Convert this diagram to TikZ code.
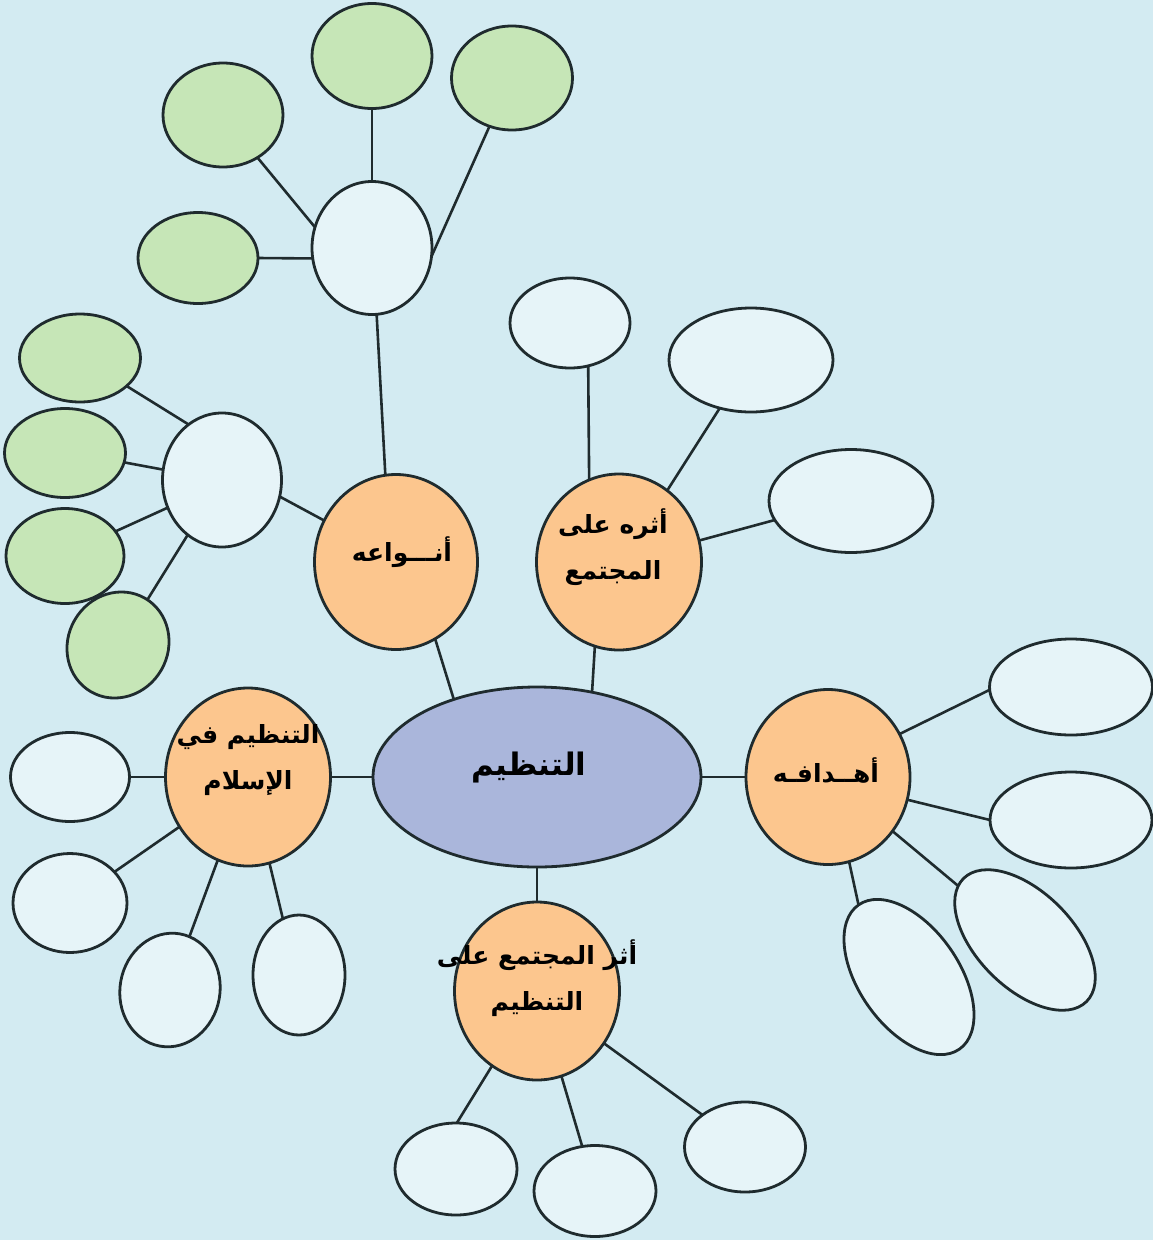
\documentclass[tikz,border=0pt]{standalone}
\usepackage{fontspec}
\newfontfamily\arfont[Script=Arabic]{DejaVu Sans}
\TeXXeTstate=1
\usetikzlibrary{shapes.geometric}
\definecolor{bgc}{HTML}{D3EBF2}
\definecolor{linec}{HTML}{1F2B2E}
\definecolor{corec}{HTML}{AAB6DB}
\definecolor{topicc}{HTML}{FCC68E}
\definecolor{leafgc}{HTML}{C6E6B7}
\definecolor{leafpc}{HTML}{E6F4F8}
\tikzset{
  shapebase/.style={ellipse, draw=linec, line width=2.8pt, inner sep=0pt, outer sep=0pt},
  leafg/.style={shapebase, fill=leafgc},
  leafp/.style={shapebase, fill=leafpc},
  topic/.style={shapebase, fill=topicc},
  core/.style={shapebase, fill=corec},
  lbl/.style={inner sep=0pt, align=center, text=black, font=\arfont\bfseries\fontsize{25}{46}\selectfont},
  corelbl/.style={inner sep=0pt, align=center, text=black, font=\arfont\bfseries\fontsize{31}{36}\selectfont},
  link/.style={draw=linec, line width=2.6pt}
}
\begin{document}
\begin{tikzpicture}[x=1pt,y=-1pt]
\useasboundingbox (0,0) rectangle (1153,1240);
\fill[bgc] (0,0) rectangle (1153,1240);

% central and topic nodes
\node[core, minimum width=328pt, minimum height=180pt] (c) at (537,777) {};
\node[topic, minimum width=163pt, minimum height=175pt] (o1) at (396,562) {};
\node[topic, minimum width=165pt, minimum height=176pt] (o2) at (619,562) {};
\node[topic, minimum width=164pt, minimum height=175pt] (o3) at (828,777) {};
\node[topic, minimum width=165pt, minimum height=178pt] (o4) at (248,777) {};
\node[topic, minimum width=165pt, minimum height=178pt] (o5) at (537,991) {};

% hubs
\node[leafp, minimum width=120pt, minimum height=133pt] (h1) at (372,248) {};
\node[leafp, minimum width=119pt, minimum height=134pt] (h2) at (222,480) {};

% green leaves of h1
\node[leafg, minimum width=120pt, minimum height=104pt] (g1a) at (223,115) {};
\node[leafg, minimum width=120pt, minimum height=105pt] (g1b) at (372,56) {};
\node[leafg, minimum width=121pt, minimum height=104pt] (g1c) at (512,78) {};
\node[leafg, minimum width=120pt, minimum height=91pt] (g1d) at (198,258) {};

% green leaves of h2
\node[leafg, minimum width=121pt, minimum height=88pt] (g2a) at (80,358) {};
\node[leafg, minimum width=121pt, minimum height=89pt] (g2b) at (65,453) {};
\node[leafg, minimum width=118pt, minimum height=95pt] (g2c) at (65,556) {};
\node[leafg, minimum width=108pt, minimum height=100pt, rotate=60] (g2d) at (118,645) {};

% leaves of o2
\node[leafp, minimum width=120pt, minimum height=90pt] (e2a) at (570,323) {};
\node[leafp, minimum width=164pt, minimum height=104pt] (e2b) at (751,360) {};
\node[leafp, minimum width=164pt, minimum height=103pt] (e2c) at (851,501) {};

% leaves of o3
\node[leafp, minimum width=163pt, minimum height=96pt] (e3a) at (1071,687) {};
\node[leafp, minimum width=162pt, minimum height=96pt] (e3b) at (1071,820) {};
\node[leafp, minimum width=174pt, minimum height=96pt, rotate=-45] (e3c) at (1025,940) {};
\node[leafp, minimum width=176pt, minimum height=100pt, rotate=-55] (e3d) at (909,977) {};

% leaves of o4
\node[leafp, minimum width=119pt, minimum height=89pt] (e4a) at (70,777) {};
\node[leafp, minimum width=114pt, minimum height=99pt] (e4b) at (70,903) {};
\node[leafp, minimum width=114pt, minimum height=100pt, rotate=80] (e4c) at (170,990) {};
\node[leafp, minimum width=92pt, minimum height=120pt] (e4d) at (299,975) {};

% leaves of o5
\node[leafp, minimum width=122pt, minimum height=92pt] (e5a) at (456,1169) {};
\node[leafp, minimum width=122pt, minimum height=91pt] (e5b) at (595,1191) {};
\node[leafp, minimum width=121pt, minimum height=90pt] (e5c) at (745,1147) {};

% connectors
\draw[link] (h1.160) -- (g1a.-51);
\draw[link] (h1.90) -- (g1b.-90);
\draw[link] (h1.-8) -- (g1c.-115);
\draw[link] (h1.-170) -- (g1d.0);
\draw[link] (h1.-86) -- (o1.97);
\draw[link] (o1.-63) -- (c.137);
\draw[link] (h2.-16) -- (o1.150);
\draw[link] (h2.121) -- (g2a.-31);
\draw[link] (h2.170) -- (g2b.-9);
\draw[link] (h2.-153) -- (g2c.26);
\draw[link] (h2.-122) -- (g2d.-3);
\draw[link] (o2.-106) -- (c.57);
\draw[link] (o2.110) -- (e2a.-67);
\draw[link] (o2.56) -- (e2b.-123);
\draw[link] (o2.15) -- (e2c.-166);
\draw[link] (c.east) -- (o3.west);
\draw[link] (o3.31) -- (e3a.-178);
\draw[link] (o3.-16) -- (e3b.180);
\draw[link] (o3.-40) -- (e3c.186);
\draw[link] (o3.-76) -- (e3d.180);
\draw[link] (c.west) -- (o4.east);
\draw[link] (o4.west) -- (e4a.east);
\draw[link] (o4.-144) -- (e4b.35);
\draw[link] (o4.-110) -- (e4c.-10);
\draw[link] (o4.-76) -- (e4d.106);
\draw[link] (c.south) -- (o5.north);
\draw[link] (o5.-121) -- (e5a.89);
\draw[link] (o5.-74) -- (e5b.106);
\draw[link] (o5.-38) -- (e5c.143);

% labels
\node[corelbl] (ct) at (529,767) {\beginR التنظيم\endR};
\node[lbl] (t1) at (402,552) {\beginR أنـــواعه\endR};
\node[lbl] (t2) at (613,547) {\beginR أثره على\endR\\\beginR المجتمع\endR};
\node[lbl] (t3) at (826,770) {\beginR أهــدافـه\endR};
\node[lbl] (t4) at (248,760) {\beginR التنظيم في\endR\\\beginR الإسلام\endR};
\node[lbl] (t5) at (537,978) {\beginR أثر المجتمع على\endR\\\beginR التنظيم\endR};
\end{tikzpicture}
\end{document}
